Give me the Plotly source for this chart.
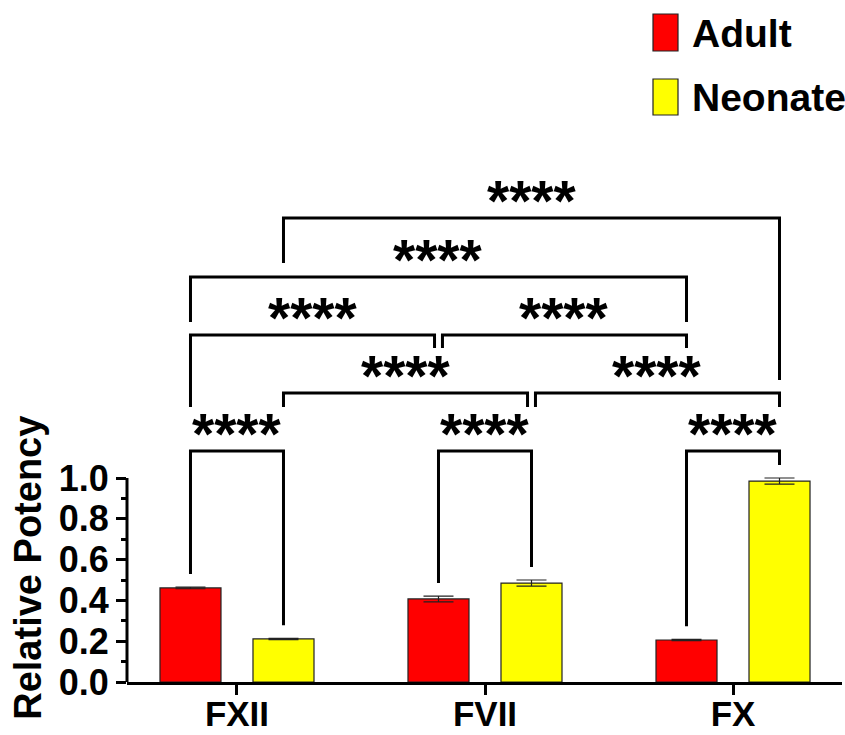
import plotly.graph_objects as go

# ---------------- data ----------------
categories = ["FXII", "FVII", "FX"]
series_names = ["Adult", "Neonate"]
adult_mean = [0.461, 0.407, 0.206]
adult_err = [0.004, 0.014, 0.003]
neonate_mean = [0.211, 0.485, 0.985]
neonate_err = [0.003, 0.015, 0.015]
y_tick_vals = [0.0, 0.2, 0.4, 0.6, 0.8, 1.0]
y_tick_text = ["0.0", "0.2", "0.4", "0.6", "0.8", "1.0"]
y_minor_vals = [0.1, 0.3, 0.5, 0.7, 0.9]
y_title = "Relative Potency"
# comparisons: (group_a, series_a, group_b, series_b, label)
comparisons = [
    (0, 0, 0, 1, "****"),
    (1, 0, 1, 1, "****"),
    (2, 0, 2, 1, "****"),
    (0, 1, 1, 1, "****"),
    (1, 1, 2, 1, "****"),
    (0, 0, 1, 0, "****"),
    (1, 0, 2, 0, "****"),
    (0, 0, 2, 0, "****"),
    (0, 1, 2, 1, "****"),
]

colors = ["#FF0000", "#FFFF00"]
FONT = "Liberation Sans, Arial, sans-serif"

# ---------------- layout geometry ----------------
W, H = 845, 735
L, R, T, B = 127, 842, 150, 682
X_RANGE = [-0.4435, 2.4395]
Y_TOP = (B - T) / 204.0
bar_w = 0.246
half_sep = 0.1875

def px(xp):
    return (xp - L) / (R - L)

def py(yp):
    return (B - yp) / (B - T)

means = [adult_mean, neonate_mean]
errs = [adult_err, neonate_err]
xs = list(range(len(categories)))

fig = go.Figure()
for s in range(2):
    centre = -half_sep if s == 0 else half_sep
    fig.add_trace(go.Bar(
        x=xs, y=means[s], name=series_names[s],
        width=bar_w, offset=centre - bar_w / 2,
        marker=dict(color=colors[s], line=dict(color="#222222", width=1.2)),
        error_y=dict(type="data", array=errs[s], visible=True,
                     color="#222222", thickness=1.2, width=15),
        showlegend=False, hoverinfo="skip",
    ))

def bar_x(g, s):
    return g + (-half_sep if s == 0 else half_sep)

def top(g, s):
    return means[s][g] + errs[s][g]

# bracket levels / leg drops (geometry)
levels = [1.132, 1.132, 1.132, 1.417, 1.417, 1.701, 1.701, 1.985, 2.275]
nud = 0.016
nudges = [(0, 0), (0, 0), (0, 0), (0, -nud), (nud, 0), (0, -nud), (nud, 0), (0, 0), (0, 0)]
leg_ends = [
    (top(0, 0) + 0.064, top(0, 1) + 0.064),
    (top(1, 0) + 0.064, top(1, 1) + 0.064),
    (top(2, 0) + 0.064, top(2, 1) + 0.064),
    (1.348, 1.348),
    (1.348, 1.348),
    (1.348, 1.637),
    (1.637, 1.637),
    (1.765, 1.765),
    (2.054, 1.480),
]

shapes = []
annotations = []
for k, (ga, sa, gb, sb, lab) in enumerate(comparisons):
    x0 = bar_x(ga, sa) + nudges[k][0]
    x1 = bar_x(gb, sb) + nudges[k][1]
    yl = levels[k]
    y0, y1 = leg_ends[k]
    shapes.append(dict(
        type="path", xref="x", yref="y",
        path=f"M {x0},{y0} L {x0},{yl} L {x1},{yl} L {x1},{y1}",
        line=dict(color="black", width=3),
    ))
    annotations.append(dict(
        x=(x0 + x1) / 2, y=yl, xref="x", yref="y", text=lab, showarrow=False,
        xanchor="center", yanchor="middle", yshift=17,
        font=dict(family=FONT, size=57, color="black", weight="bold"),
    ))

# y axis line only from 0 to 1.0
shapes.append(dict(type="line", xref="paper", yref="y", x0=0, x1=0, y0=0, y1=1.0,
                   line=dict(color="black", width=3)))

# legend drawn manually
leg_rows = [(14, 51, 33), (79, 115, 98)]
for s, (yt, yb, yc) in enumerate(leg_rows):
    shapes.append(dict(type="rect", xref="paper", yref="paper",
                       x0=px(653), x1=px(678), y0=py(yb), y1=py(yt),
                       fillcolor=colors[s], line=dict(color="#222222", width=1.2)))
    annotations.append(dict(x=px(690), y=py(yc), xref="paper", yref="paper",
                            text=series_names[s], showarrow=False,
                            xanchor="left", yanchor="middle",
                            font=dict(family=FONT, size=39, color="black", weight="bold")))

# y title
annotations.append(dict(x=px(28), y=0.56, xref="paper", yref="y", text=y_title,
                        showarrow=False, textangle=-90, xanchor="center", yanchor="middle",
                        font=dict(family=FONT, size=38, color="black", weight="bold")))

fig.update_layout(
    width=W, height=H, autosize=False,
    margin=dict(l=L, r=W - R, t=T, b=H - B, pad=0),
    plot_bgcolor="white", paper_bgcolor="white",
    barmode="overlay", hovermode=False,
    shapes=shapes, annotations=annotations,
    font=dict(family=FONT, color="black"),
    xaxis=dict(
        range=X_RANGE, tickmode="array", tickvals=xs, ticktext=categories,
        ticks="outside", ticklen=10, tickwidth=3, tickcolor="black",
        showline=True, linewidth=3, linecolor="black",
        showgrid=False, zeroline=False, automargin=False,
        ticklabelstandoff=-11,
        tickfont=dict(family=FONT, size=35, color="black", weight="bold"),
    ),
    yaxis=dict(
        range=[0, Y_TOP], tickmode="array", tickvals=y_tick_vals, ticktext=y_tick_text,
        ticks="outside", ticklen=10, tickwidth=3, tickcolor="black",
        showline=False, showgrid=False, zeroline=False, automargin=False,
        minor=dict(tickvals=y_minor_vals, ticks="outside", ticklen=5, tickwidth=3,
                   tickcolor="black", showgrid=False),
        tickfont=dict(family=FONT, size=36, color="black", weight="bold"),
    ),
)

fig.write_html("out.html", config={"displayModeBar": False},
               post_script="document.body.style.margin='0';document.body.style.overflow='hidden';")
